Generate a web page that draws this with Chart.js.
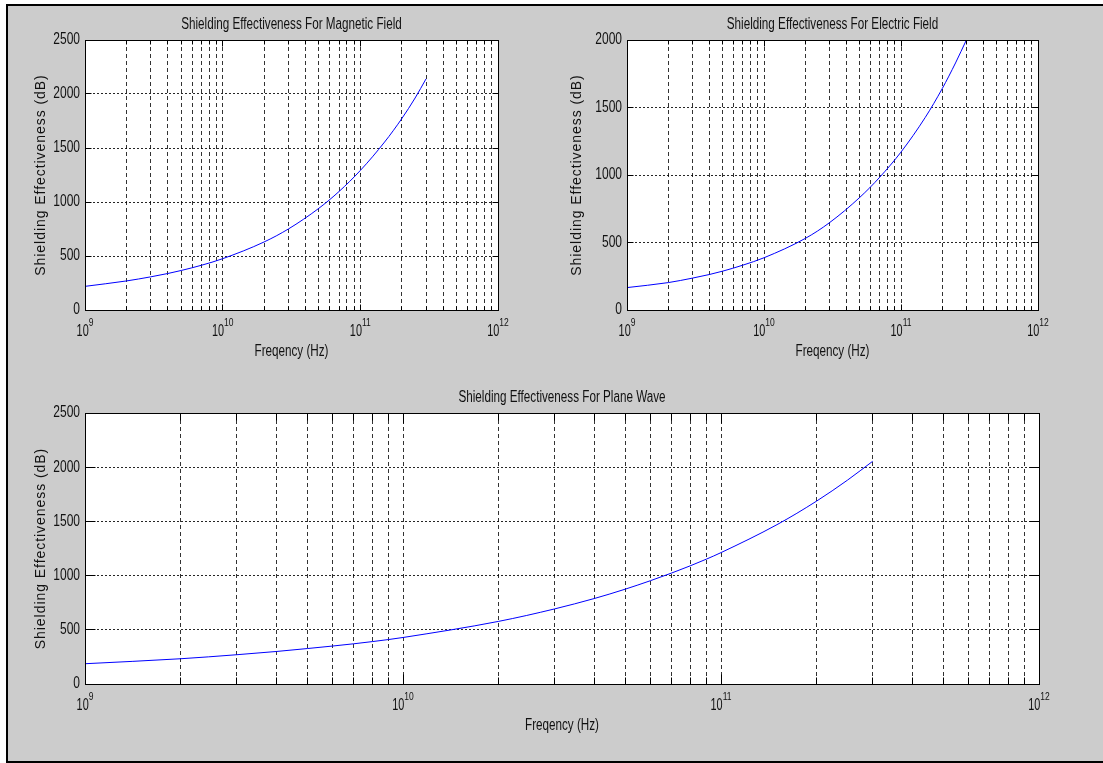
<!DOCTYPE html>
<html>
<head>
<meta charset="utf-8">
<script src="https://cdn.jsdelivr.net/npm/chart.js@4.4.1/dist/chart.umd.min.js"></script>
<style>
html,body{margin:0;padding:0;background:#ffffff;width:1103px;height:763px;overflow:hidden;}
#frame{position:absolute;left:6px;top:4px;width:1110px;height:759px;background:#cccccc;border:2px solid #000;box-sizing:border-box;}
canvas{position:absolute;}
#c1{left:0;top:0;}
#c2{left:560px;top:0;}
#c3{left:0;top:380px;}
</style>
</head>
<body>
<div id="frame"></div>
<canvas id="c1" width="560" height="380"></canvas>
<canvas id="c2" width="543" height="380"></canvas>
<canvas id="c3" width="1103" height="383"></canvas>
<script>
// ---------- data ----------
const freqMag  = [1e9, 2e9, 3e9, 4e9, 5e9, 7e9, 1e10, 2e10, 3e10, 5e10, 7e10, 1e11, 1.5e11, 2e11, 2.5e11, 3e11];
const seMag    = [219, 269, 307, 338, 366, 414, 475, 630, 750, 942, 1097, 1292, 1555, 1772, 1963, 2140];

const freqElec = [1e9, 2e9, 3e9, 4e9, 5e9, 7e9, 1e10, 2e10, 3e10, 5e10, 7e10, 1e11, 1.5e11, 2e11, 2.5e11, 3e11];
const seElec   = [166, 203, 236, 263, 288, 332, 387, 530, 646, 834, 984, 1170, 1425, 1640, 1830, 2000];

const freqPlane = [1e9, 2e9, 3e9, 4e9, 5e9, 6e9, 7e9, 8e9, 9e9, 1e10, 2e10, 3e10, 4e10, 5e10, 6e10, 7e10, 8e10, 9e10, 1e11, 1.5e11, 2e11, 2.5e11, 3e11];
const sePlane   = [187, 233, 270, 300, 327, 350, 371, 391, 410, 429, 578, 693, 789, 875, 953, 1024, 1090, 1152, 1212, 1470, 1688, 1881, 2055];

// tick labels
const xDecadeExponents = ['9', '10', '11', '12'];
const xMinorSteps = [1, 2, 3, 4, 5, 6, 7, 8, 9];
const yTicksMag   = [0, 500, 1000, 1500, 2000, 2500];
const yTicksElec  = [0, 500, 1000, 1500, 2000];
const yTicksPlane = [0, 500, 1000, 1500, 2000, 2500];

const titleMag   = 'Shielding Effectiveness For Magnetic Field';
const titleElec  = 'Shielding Effectiveness For Electric Field';
const titlePlane = 'Shielding Effectiveness For Plane Wave';
const xLabel = 'Freqency (Hz)';
const yLabel = 'Shielding Effectiveness (dB)';

// ---------- helpers ----------
const FONT = '"Liberation Sans", Arial, Helvetica, sans-serif';
const TXT = '#111111';

function xGridValues() {
  const vals = [];
  for (let i = 0; i < xDecadeExponents.length - 1; i++) {
    const base = Math.pow(10, +xDecadeExponents[i]);
    xMinorSteps.forEach(m => vals.push(m * base));
  }
  vals.push(Math.pow(10, +xDecadeExponents[xDecadeExponents.length - 1]));
  return vals;
}
function isDecade(v) {
  const l = Math.log10(v);
  return Math.abs(l - Math.round(l)) < 1e-9;
}
function drawText(ctx, s, x, y, size, sx, align, baseline, rot, spacing) {
  ctx.save();
  ctx.translate(x, y);
  if (rot) ctx.rotate(rot);
  ctx.scale(sx, 1);
  ctx.font = size + 'px ' + FONT;
  if (spacing) ctx.letterSpacing = spacing + 'px';
  ctx.fillStyle = TXT;
  ctx.textAlign = align;
  ctx.textBaseline = baseline;
  ctx.fillText(s, 0, 0);
  ctx.restore();
}
function ap(p) { return Math.round(p - 0.5) + 0.5; }

const matlabPlugin = {
  id: 'matlab',
  beforeDraw(chart) {
    const {ctx, chartArea: a} = chart;
    ctx.save();
    ctx.fillStyle = '#ffffff';
    ctx.fillRect(a.left, a.top, a.right - a.left, a.bottom - a.top);
    ctx.restore();
  },
  afterDraw(chart) {
    const o = chart.options.plugins.matlab;
    const {ctx, chartArea: a} = chart;
    const x = chart.scales.x, y = chart.scales.y;
    const L = ap(a.left), R = ap(a.right), T = ap(a.top), B = ap(a.bottom);
    ctx.save();
    ctx.strokeStyle = '#000';
    ctx.lineWidth = 1;
    ctx.setLineDash([]);
    ctx.strokeRect(L, T, R - L, B - T);
    ctx.beginPath();
    x.ticks.forEach(t => {
      const px = ap(x.getPixelForValue(t.value));
      const len = isDecade(t.value) ? o.major : o.minor;
      ctx.moveTo(px, B); ctx.lineTo(px, B - len);
      ctx.moveTo(px, T); ctx.lineTo(px, T + len);
    });
    y.ticks.forEach(t => {
      const py = ap(y.getPixelForValue(t.value));
      ctx.moveTo(L, py); ctx.lineTo(L + o.major, py);
      ctx.moveTo(R, py); ctx.lineTo(R - o.major, py);
    });
    ctx.stroke();
    ctx.restore();

    // y tick labels
    y.ticks.forEach(t => {
      drawText(ctx, String(t.value), a.left - 5, y.getPixelForValue(t.value), 16, 0.75, 'right', 'middle');
    });
    // x tick labels 10^n
    xDecadeExponents.forEach(e => {
      const v = Math.pow(10, +e);
      const px = x.getPixelForValue(v);
      ctx.save();
      ctx.font = '16px ' + FONT;
      const wb = ctx.measureText('10').width * 0.68;
      ctx.font = '10px ' + FONT;
      const we = ctx.measureText(e).width * 0.85;
      ctx.restore();
      const left = px - (wb + we) / 2;
      drawText(ctx, '10', left, a.bottom + 25.6, 16, 0.68, 'left', 'alphabetic');
      drawText(ctx, e, left + wb, a.bottom + 15.5, 10, 0.85, 'left', 'alphabetic');
    });
    // title
    drawText(ctx, chart.options.plugins.title.text, (a.left + a.right) / 2, a.top - 11.4, 16, 0.73, 'center', 'alphabetic');
    // axis titles
    drawText(ctx, x.options.title.text, (a.left + a.right) / 2, a.bottom + 46.3, 16, 0.73, 'center', 'alphabetic');
    drawText(ctx, y.options.title.text, a.left - o.yLabelOffset, (a.top + a.bottom) / 2, 14, 1, 'center', 'middle', -Math.PI / 2, 0.95);
  }
};

function makeChart(id, freqs, values, yTicks, title, pad, yLabelOffset, tickLen) {
  const yMax = yTicks[yTicks.length - 1];
  return new Chart(document.getElementById(id), {
    type: 'line',
    data: {
      datasets: [{
        data: freqs.map((f, i) => ({x: f, y: values[i]})),
        borderColor: '#0000ff',
        borderWidth: 1,
        pointRadius: 0,
        fill: false,
        cubicInterpolationMode: 'monotone'
      }]
    },
    options: {
      responsive: false,
      animation: false,
      devicePixelRatio: 1,
      layout: {padding: pad},
      plugins: {
        legend: {display: false},
        tooltip: {enabled: false},
        title: {display: false, text: title},
        matlab: {major: tickLen[0], minor: tickLen[1], yLabelOffset: yLabelOffset}
      },
      scales: {
        x: {
          type: 'logarithmic',
          min: Math.pow(10, +xDecadeExponents[0]),
          max: Math.pow(10, +xDecadeExponents[xDecadeExponents.length - 1]),
          afterBuildTicks: s => { s.ticks = xGridValues().map(v => ({value: v})); },
          afterFit: s => { s.height = 0; },
          ticks: {display: false},
          title: {display: false, text: xLabel},
          grid: {color: 'rgba(0,0,0,0.8)', lineWidth: 1, drawTicks: false},
          border: {display: false, dash: [4, 3]}
        },
        y: {
          type: 'linear',
          min: 0,
          max: yMax,
          afterBuildTicks: s => { s.ticks = yTicks.map(v => ({value: v})); },
          afterFit: s => { s.width = 0; },
          ticks: {display: false},
          title: {display: false, text: yLabel},
          grid: {color: 'rgba(0,0,0,0.85)', lineWidth: 1, drawTicks: false},
          border: {display: false, dash: [2, 2]}
        }
      }
    },
    plugins: [matlabPlugin]
  });
}

makeChart('c1', freqMag, seMag, yTicksMag, titleMag, {left: 85, top: 40, right: 62, bottom: 70}, 43.7, [6, 4]);
makeChart('c2', freqElec, seElec, yTicksElec, titleElec, {left: 67, top: 40, right: 65, bottom: 70}, 50, [6, 4]);
makeChart('c3', freqPlane, sePlane, yTicksPlane, titlePlane, {left: 85, top: 33, right: 64, bottom: 79}, 43.7, [10, 7]);
</script>
</body>
</html>
